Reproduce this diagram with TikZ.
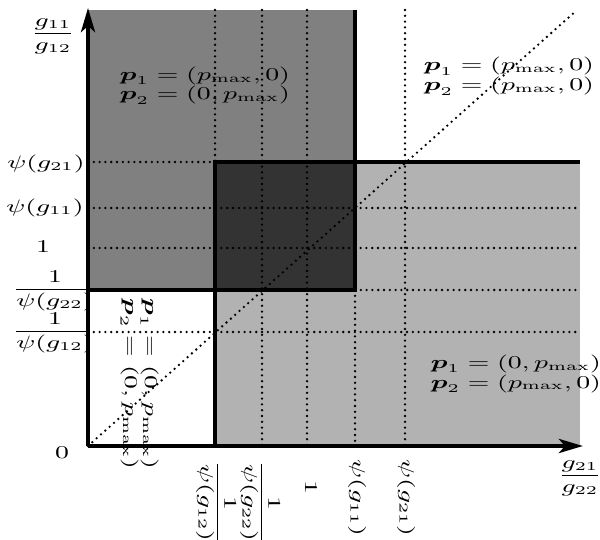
\documentclass[tikz,border=0pt]{standalone}
\usepackage{amsmath}
\usepackage{graphicx}
\usetikzlibrary{arrows.meta}
\newcommand{\sx}[1]{\scalebox{1.5}[1]{#1}}
\definecolor{gA}{gray}{0.5}
\definecolor{gB}{gray}{0.7}
\definecolor{gC}{gray}{0.2}
\begin{document}
\begin{tikzpicture}[x=0.5pt,y=-0.5pt,
  lab/.style={inner sep=0pt, font=\fontsize{9}{10}\selectfont},
  rlab/.style={lab, rotate=-90},
  dotln/.style={line width=1.3pt, line cap=round, dash pattern=on 0pt off 2.9pt},
  thk/.style={line width=1.7pt},
  axisarrow/.style={line width=2pt, -{Stealth[length=12pt,width=7pt,inset=3pt]}}]
\useasboundingbox (0,0) rectangle (600,540);
% axis labels (drawn first; fills cover their right edge)
\node[lab] (ly) at (53,36) {\sx{$\dfrac{g_{11}}{g_{12}}$}};
\node[lab] (l5) at (46,164) {\sx{$\psi(g_{21})$}};
\node[lab] (l4) at (45,208) {\sx{$\psi(g_{11})$}};
\node[lab] (l3) at (43,247) {\sx{$1$}};
\node[lab] (l2) at (55,291) {\sx{$\dfrac{1}{\psi(g_{22})}$}};
\node[lab] (l1) at (55,333) {\sx{$\dfrac{1}{\psi(g_{12})}$}};
\node[lab] (l0) at (62,453) {\sx{$0$}};
\node[lab] (lx) at (580,478) {\sx{$\dfrac{g_{21}}{g_{22}}$}};
\node[rlab] (m1) at (216,503) {\sx{$\dfrac{1}{\psi(g_{12})}$}};
\node[rlab] (m2) at (260,503) {\sx{$\dfrac{1}{\psi(g_{22})}$}};
\node[rlab] (m3) at (311,487) {\sx{$1$}};
\node[rlab] (m4) at (357,498) {\sx{$\psi(g_{11})$}};
\node[rlab] (m5) at (406,498) {\sx{$\psi(g_{21})$}};
% regions
\fill[gA] (88,10) rectangle (355,290);
\fill[gB] (215,162) rectangle (580,446);
\fill[gC] (215,162) rectangle (355,290);
\fill[white] (88,290) rectangle (215,446);
% region texts
\node[lab] (tl) at (205,86) {\sx{$\begin{array}{l}\boldsymbol{p}_1=(p_{\max},0)\\ \boldsymbol{p}_2=(0,p_{\max})\end{array}$}};
\node[lab] (tr) at (509,77) {\sx{$\begin{array}{l}\boldsymbol{p}_1=(p_{\max},0)\\ \boldsymbol{p}_2=(p_{\max},0)\end{array}$}};
\node[lab] (br) at (516,374) {\sx{$\begin{array}{l}\boldsymbol{p}_1=(0,p_{\max})\\ \boldsymbol{p}_2=(p_{\max},0)\end{array}$}};
\node[rlab] (bl) at (139,384) {\sx{$\begin{array}{l}\boldsymbol{p}_1=(0,p_{\max})\\ \boldsymbol{p}_2=(0,p_{\max})\end{array}$}};
% dotted guide lines
\draw[dotln] (215,10) -- (215,162);
\draw[dotln] (262,10) -- (262,446);
\draw[dotln] (307,10) -- (307,446);
\draw[dotln] (355,290) -- (355,446);
\draw[dotln] (405,10) -- (405,446);
\draw[dotln] (88,162) -- (215,162);
\draw[dotln] (88,208) -- (580,208);
\draw[dotln] (88,248) -- (580,248);
\draw[dotln] (355,290) -- (580,290);
\draw[dotln] (88,332) -- (580,332);
\draw[dotln] (88,446) -- (577,10);
% thick borders
\draw[thk] (355,10) -- (355,290) -- (88,290);
\draw[thk] (580,162) -- (215,162) -- (215,446);
% axes
\coordinate (O) at (88,446);
\coordinate (XE) at (583,446);
\coordinate (YE) at (88,8);
\draw[axisarrow] (O) -- (XE);
\draw[axisarrow] (O) -- (YE);
\end{tikzpicture}
\end{document}
